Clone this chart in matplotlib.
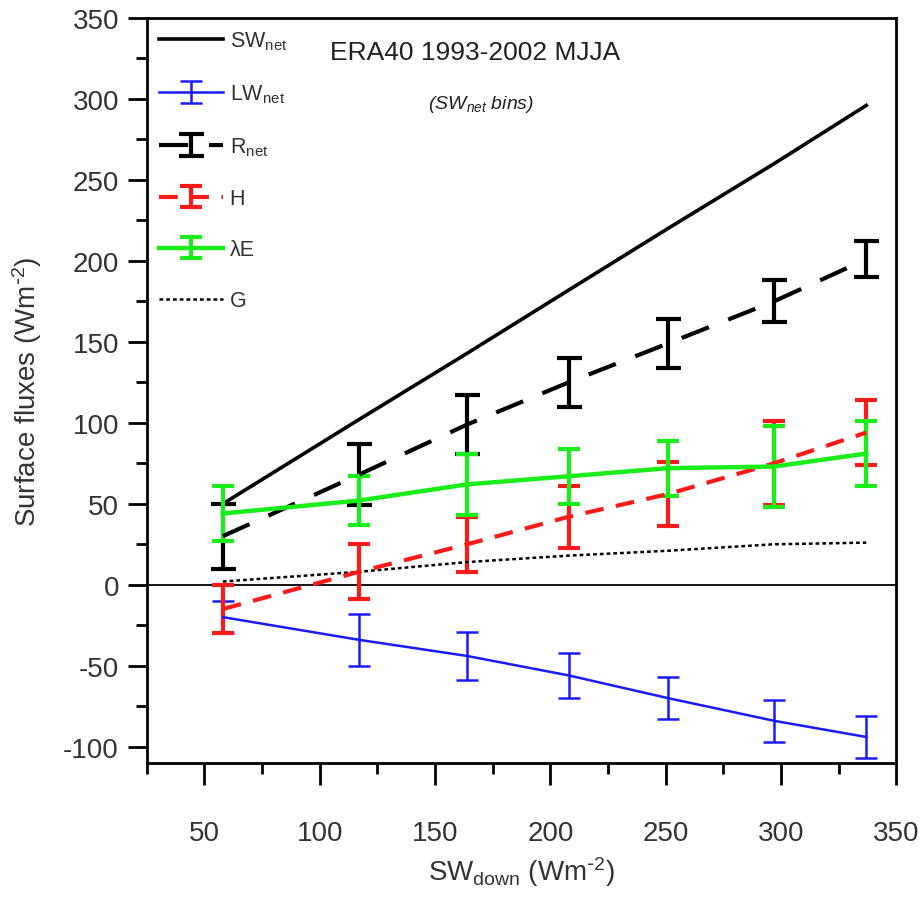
import numpy as np
import matplotlib
matplotlib.use("Agg")
import matplotlib.pyplot as plt
from matplotlib.ticker import MultipleLocator

plt.rcParams['font.family'] = ['Liberation Sans', 'DejaVu Sans']
plt.rcParams['mathtext.default'] = 'regular'
plt.rcParams['axes.unicode_minus'] = False

# bin centres (SW_down)
sw_down = [58, 117, 164, 208, 251, 297, 337]

# fluxes
sw_net = [50, 102, 143, 182, 220, 260, 296]
lw_net = [-20, -34, -44, -56, -70, -84, -94]
lw_err = [10, 16, 15, 14, 13, 13, 13]
r_net = [30, 68, 99, 125, 149, 175, 201]
r_err = [20, 19, 18, 15, 15, 13, 11]
h_flux = [-15, 8, 25, 42, 56, 75, 94]
h_err = [15, 17, 17, 19, 20, 26, 20]
le_flux = [44, 52, 62, 67, 72, 73, 81]
le_err = [17, 15, 19, 17, 17, 25, 20]
g_flux = [2, 8, 14, 18, 21, 25, 26]

fig = plt.figure(figsize=(9.23, 9.04), dpi=100)
ax = fig.add_axes([0.159, 0.155, 0.812, 0.824])

ax.axhline(0, color='black', lw=1.3, zorder=1)

h1, = ax.plot(sw_down, sw_net, color='black', lw=2.6)
h2 = ax.errorbar(sw_down, lw_net, yerr=lw_err, color='#1a1aff', lw=1.8,
                 capsize=8, capthick=1.8, elinewidth=1.8)
h3 = ax.errorbar(sw_down, r_net, yerr=r_err, color='black', lw=3,
                 ls=(0, (7, 5)), capsize=9, capthick=3, elinewidth=3)
h4 = ax.errorbar(sw_down, h_flux, yerr=h_err, color='#ff1a1a', lw=3,
                 ls=(0, (4.5, 3)), capsize=8, capthick=3, elinewidth=3)
h5 = ax.errorbar(sw_down, le_flux, yerr=le_err, color='#1aee1a', lw=3.2,
                 capsize=8, capthick=3, elinewidth=3)
h6, = ax.plot(sw_down, g_flux, color='black', lw=1.8, ls=(0, (1.5, 1.2)))

ax.set_xlim(25, 350)
ax.set_ylim(-110, 350)
ax.xaxis.set_major_locator(MultipleLocator(50))
ax.xaxis.set_minor_locator(MultipleLocator(25))
ax.yaxis.set_major_locator(MultipleLocator(50))
ax.yaxis.set_minor_locator(MultipleLocator(25))
ax.set_xticks([50, 100, 150, 200, 250, 300, 350])
ax.tick_params(which='major', direction='out', length=14, width=2,
               labelsize=20, colors='black', labelcolor='#333333', pad=6)
ax.tick_params(axis='x', which='major', length=16, pad=25)
ax.tick_params(which='minor', direction='out', length=8, width=2)
for s in ax.spines.values():
    s.set_linewidth(2)
    s.set_color('black')

ax.set_xlabel(r'SW$_{down}$ (Wm$^{\text{-}2}$)', fontsize=20, labelpad=6,
              color='#333333')
ax.set_ylabel(r'Surface fluxes (Wm$^{\text{-}2}$)', fontsize=20,
              labelpad=14, color='#333333')

ax.text(0.245, 0.955, 'ERA40 1993-2002 MJJA', transform=ax.transAxes,
        fontsize=19, color='#222222', va='center', ha='left')
ax.text(0.375, 0.885, '(SW$_{net}$ bins)', transform=ax.transAxes,
        fontsize=14, style='italic', color='#222222', va='center',
        ha='left')

leg = ax.legend([h1, h2, h3, h4, h5, h6],
                ['SW$_{net}$', 'LW$_{net}$', 'R$_{net}$', 'H', 'λE', 'G'],
                loc='upper left', frameon=False, fontsize=15.5,
                handlelength=3.0, handletextpad=0.3, labelspacing=1.4,
                borderaxespad=0.15, bbox_to_anchor=(0.0, 1.0))
for t in leg.get_texts():
    t.set_color('#333333')

fig.savefig('out.png', dpi=100)
